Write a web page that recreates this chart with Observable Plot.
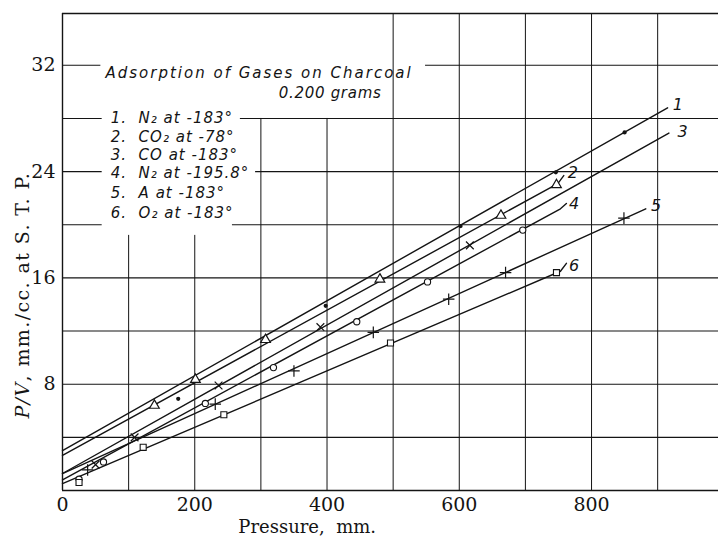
<!DOCTYPE html>
<html><head><meta charset="utf-8">
<script src="https://cdn.jsdelivr.net/npm/d3@7"></script>
<script src="https://cdn.jsdelivr.net/npm/@observablehq/plot@0.6"></script>
<style>
html,body{margin:0;padding:0;background:#fff}
</style>
</head><body><div id="chart"></div>
<script>
// ---------- data ----------
const seriesIds = ["1", "2", "3", "4", "5", "6"];
const legendTitle = "Adsorption of Gases on Charcoal";
const legendSubtitle = "0.200 grams";
const legendEntries = [
  "1.  N\u2082 at -183\u00b0",
  "2.  CO\u2082 at -78\u00b0",
  "3.  CO at -183\u00b0",
  "4.  N\u2082 at -195.8\u00b0",
  "5.  A at -183\u00b0",
  "6.  O\u2082 at -183\u00b0"
];
const xTicks = [0, 200, 400, 600, 800];
const yTicks = [8, 16, 24, 32];
const xLabel = "Pressure,  mm.";
const yLabel = "P/V, mm./cc. at S. T. P.";

// measured points (pressure mm, P/V)
const pts1 = [[175, 6.9], [398, 13.9], [602, 19.9], [746, 23.95], [850, 26.95]];           // N2 -183 (dots)
const pts2 = [[139, 6.4], [201, 8.35], [307, 11.35], [480, 15.9], [663, 20.7], [747, 23.0]]; // CO2 -78 (triangles)
const pts3 = [[50, 1.95], [109, 4.0], [236, 7.9], [390, 12.3], [616, 18.45]];               // CO -183 (x)
const pts4 = [[25, 0.85], [62, 2.15], [216, 6.55], [319, 9.25], [445, 12.7], [552, 15.7], [696, 19.6]]; // N2 -195.8 (circles)
const pts5 = [[38, 1.55], [231, 6.5], [350, 9.0], [470, 11.9], [584, 14.4], [670, 16.4], [849, 20.5]];  // A -183 (plus)
const pts6 = [[25, 0.6], [122, 3.25], [244, 5.7], [496, 11.1], [747, 16.4]];                // O2 -183 (squares)

// drawn straight lines (start, end, and the little leader to the label)
const line1 = [[0, 3.0], [915, 28.8]];
const line2 = [[0, 2.65], [749, 23.1], [758, 23.7]];
const line3 = [[0, 1.28], [917, 26.9]];
const line4 = [[0, 0.8], [753, 21.2], [762, 21.6]];
const line5 = [[0, 1.27], [882, 21.2]];
const line6 = [[0, 0.51], [753, 16.5], [762, 17.1]];

// curve numbers next to the line ends
const curveLabelX = [923, 764, 930, 766, 890, 766];
const curveLabelY = [29.0, 23.9, 27.0, 21.6, 21.4, 16.9];

// grid lines (the legend block interrupts some of them)
const hGrid = [
  [4, 0, 992], [8, 0, 992], [12, 0, 992], [16, 0, 992],
  [20, 0, 60], [20, 257, 992],
  [24, 0, 60], [24, 292, 992],
  [28, 0, 60], [28, 269, 992],
  [32, 0, 58], [32, 549, 992]
];
const vGrid = [
  [100, 0, 19.2], [200, 0, 19.2], [300, 0, 28], [400, 0, 28],
  [500, 0, 35.9], [600, 0, 35.9], [700, 0, 35.9], [800, 0, 35.9], [900, 0, 35.9]
];

// ---------- build tables ----------
const pointSets = [pts1, pts2, pts3, pts4, pts5, pts6];
const lineSets = [line1, line2, line3, line4, line5, line6];
const points = pointSets.flatMap((s, i) => s.map(([x, y]) => ({series: seriesIds[i], x, y})));
const lines = lineSets.flatMap((s, i) => s.map(([x, y]) => ({series: seriesIds[i], x, y})));
const curveLabels = seriesIds.map((id, i) => ({id, x: curveLabelX[i], y: curveLabelY[i]}));
const hRows = hGrid.map(([y, x1, x2]) => ({y, x1, x2}));
const vRows = vGrid.map(([x, y1, y2]) => ({x, y1, y2}));
const legendRows = legendEntries.map((t, i) => ({t, i}));
const bySeries = id => points.filter(d => d.series === id);

const ink = "#141414";
const legendFont = {fontFamily: "DejaVu Sans", fontStyle: "italic", fontSize: 15, fill: ink};

const chart = Plot.plot({
  width: 718,
  height: 541,
  marginLeft: 62,
  marginRight: 0,
  marginTop: 13,
  marginBottom: 51,
  x: {domain: [0, 992]},
  y: {domain: [0, 35.9]},
  style: {fontFamily: "DejaVu Serif", fontSize: "18px", color: ink, background: "#fff"},
  marks: [
    Plot.ruleY(hRows, {y: "y", x1: "x1", x2: "x2", stroke: ink, strokeWidth: 1.1}),
    Plot.ruleX(vRows, {x: "x", y1: "y1", y2: "y2", stroke: ink, strokeWidth: 1}),
    Plot.ruleX([0], {stroke: ink, strokeWidth: 1.4}),
    Plot.ruleY([0, 35.9], {stroke: ink, strokeWidth: 1.4}),
    Plot.axisY(yTicks, {tickSize: 0, tickPadding: 7, label: null, fontSize: 19, fontFamily: "DejaVu Serif"}),
    Plot.axisX(xTicks, {tickSize: 0, tickPadding: 7, label: null, fontSize: 19, fontFamily: "DejaVu Serif"}),
    Plot.line(lines, {x: "x", y: "y", z: "series", stroke: ink, strokeWidth: 1.4}),
    // markers
    Plot.dot(bySeries("1"), {x: "x", y: "y", r: 2.1, fill: ink, stroke: null}),
    Plot.dot(bySeries("2"), {x: "x", y: "y", symbol: "triangle", r: 3.6, fill: "#fff", stroke: ink, strokeWidth: 1.2}),
    Plot.dot(bySeries("3"), {x: "x", y: "y", symbol: "times", r: 3.6, stroke: ink, strokeWidth: 1.2}),
    Plot.dot(bySeries("4"), {x: "x", y: "y", symbol: "circle", r: 3.1, fill: "#fff", stroke: ink, strokeWidth: 1.1}),
    Plot.dot(bySeries("5"), {x: "x", y: "y", symbol: "plus", r: 3.8, stroke: ink, strokeWidth: 1.2}),
    Plot.dot(bySeries("6"), {x: "x", y: "y", symbol: "square", r: 3.4, fill: "#fff", stroke: ink, strokeWidth: 1.1}),
    // curve numbers
    Plot.text(curveLabels, {x: "x", y: "y", text: "id", textAnchor: "start", ...legendFont, fontSize: 16}),
    // legend block
    Plot.text([legendTitle], {x: () => 65, y: () => 31.4, textAnchor: "start", ...legendFont}),
    Plot.text([legendSubtitle], {x: () => 327, y: () => 29.9, textAnchor: "start", ...legendFont}),
    Plot.text(legendRows, {x: () => 73, y: d => [28.0, 26.6, 25.2, 23.9, 22.4, 20.9][d.i], text: "t", textAnchor: "start", ...legendFont}),
    // axis titles
    Plot.text([xLabel], {x: () => 370, frameAnchor: "bottom", dy: 42, fontSize: 18, fill: ink}),
    Plot.text([yLabel], {y: () => 14.7, frameAnchor: "left", textAnchor: "middle", dx: -40, rotate: -90, fontSize: 19, fill: ink})
  ]
});

document.getElementById("chart").appendChild(chart);

const texts = d3.select(chart).selectAll("text");
// letter spacing of the hand lettering
texts.filter(function() { return this.textContent === legendTitle; }).style("letter-spacing", "2px");
texts.filter(function() { return this.textContent === legendSubtitle; }).style("letter-spacing", "0.7px");
texts.filter(function() { return legendEntries.includes(this.textContent); }).style("letter-spacing", "1px");
texts.filter(function() { return this.textContent === xLabel; }).style("white-space", "pre");
// italic P/V in the y title
texts.filter(function() { return this.textContent === yLabel; })
  .style("letter-spacing", "1.4px")
  .each(function() {
    const t = d3.select(this);
    t.text(null);
    t.append("tspan").attr("font-style", "italic").text("P/V");
    t.append("tspan").text(yLabel.slice(3));
  });
</script>
</body></html>
